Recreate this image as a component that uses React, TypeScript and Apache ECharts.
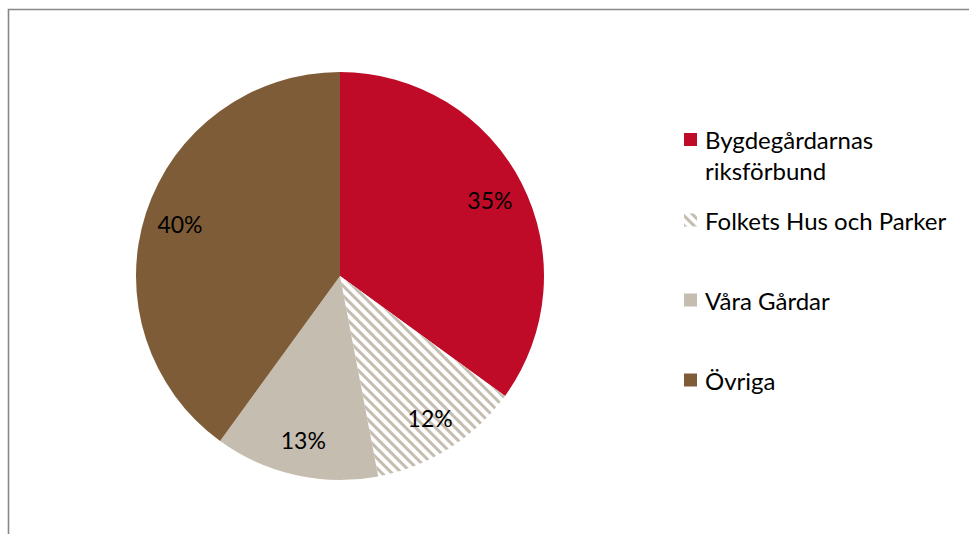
import React, { useEffect, useRef } from "react";
import * as echarts from "echarts";

const categories = ["Bygdegårdarnas riksförbund", "Folkets Hus och Parker", "Våra Gårdar", "Övriga"];
const legendLabels = ["\nBygdegårdarnas\nriksförbund", "Folkets Hus och Parker", "Våra Gårdar", "Övriga"];
const values = [35, 12, 13, 40];
const colors = ["#C00B28", "#FFFFFF", "#C5BDB0", "#7E5C37"];
const legendCenters = [139.5, 220, 300, 380];

const FONT = "Lato";

export default function App() {
  const ref = useRef<HTMLDivElement>(null);
  useEffect(() => {
    document.body.style.margin = "0";
    const chart = echarts.init(ref.current!, undefined, { renderer: "svg" });
    const data = categories.map((name, i) => {
      const d: any = { name, value: values[i], itemStyle: { color: colors[i] } };
      if (i === 1) {
        d.itemStyle.decal = {
          symbol: "rect",
          symbolSize: 1,
          color: "#C5BDB0",
          backgroundColor: "#FFFFFF",
          dashArrayX: [1, 0],
          dashArrayY: [3, 4],
          rotation: Math.PI / 4,
        };
      }
      return d;
    });
    const R = 204;
    const LH = 31;
    const legends = categories.map((name, i) => {
      const lines = legendLabels[i].split("\n").length;
      const h = lines * LH;
      return {
        show: true,
        orient: "vertical",
        left: 684,
        top: legendCenters[i] - h / 2,
        padding: 0,
        itemWidth: 13,
        itemHeight: 13,
        icon: "rect",
        data: [name],
        selectedMode: false,
        formatter: () => legendLabels[i],
        textStyle: {
          fontFamily: FONT,
          fontSize: 24,
          color: "#000",
          lineHeight: LH,
          padding: [0, 0, 0, 3],
        },
      };
    });
    chart.setOption({
      animation: false,
      legend: legends,
      graphic: [
        {
          type: "rect",
          shape: { x: 8.5, y: 9.5, width: 1200, height: 1200 },
          style: { fill: "none", stroke: "#878787", lineWidth: 1.6 },
          silent: true,
          z: -10,
        },
      ],
      series: [
        {
          type: "pie",
          center: [340, 276],
          radius: [0, R],
          startAngle: 90,
          clockwise: true,
          label: { show: false },
          labelLine: { show: false },
          emphasis: { disabled: true },
          data,
        },
        {
          type: "pie",
          center: [340, 276],
          radius: [0, R * 1.62],
          startAngle: 90,
          clockwise: true,
          silent: true,
          itemStyle: { color: "rgba(0,0,0,0)" },
          label: {
            show: true,
            position: "inside",
            formatter: (p: any) => p.value + "%",
            fontFamily: FONT,
            fontSize: 23,
            color: "#000",
          },
          labelLine: { show: false },
          emphasis: { disabled: true },
          data: categories.map((name, i) => ({ name, value: values[i] })),
        },
      ],
    });
    return () => chart.dispose();
  }, []);
  return <div ref={ref} style={{ width: 969, height: 534, background: "#fff" }} />;
}
